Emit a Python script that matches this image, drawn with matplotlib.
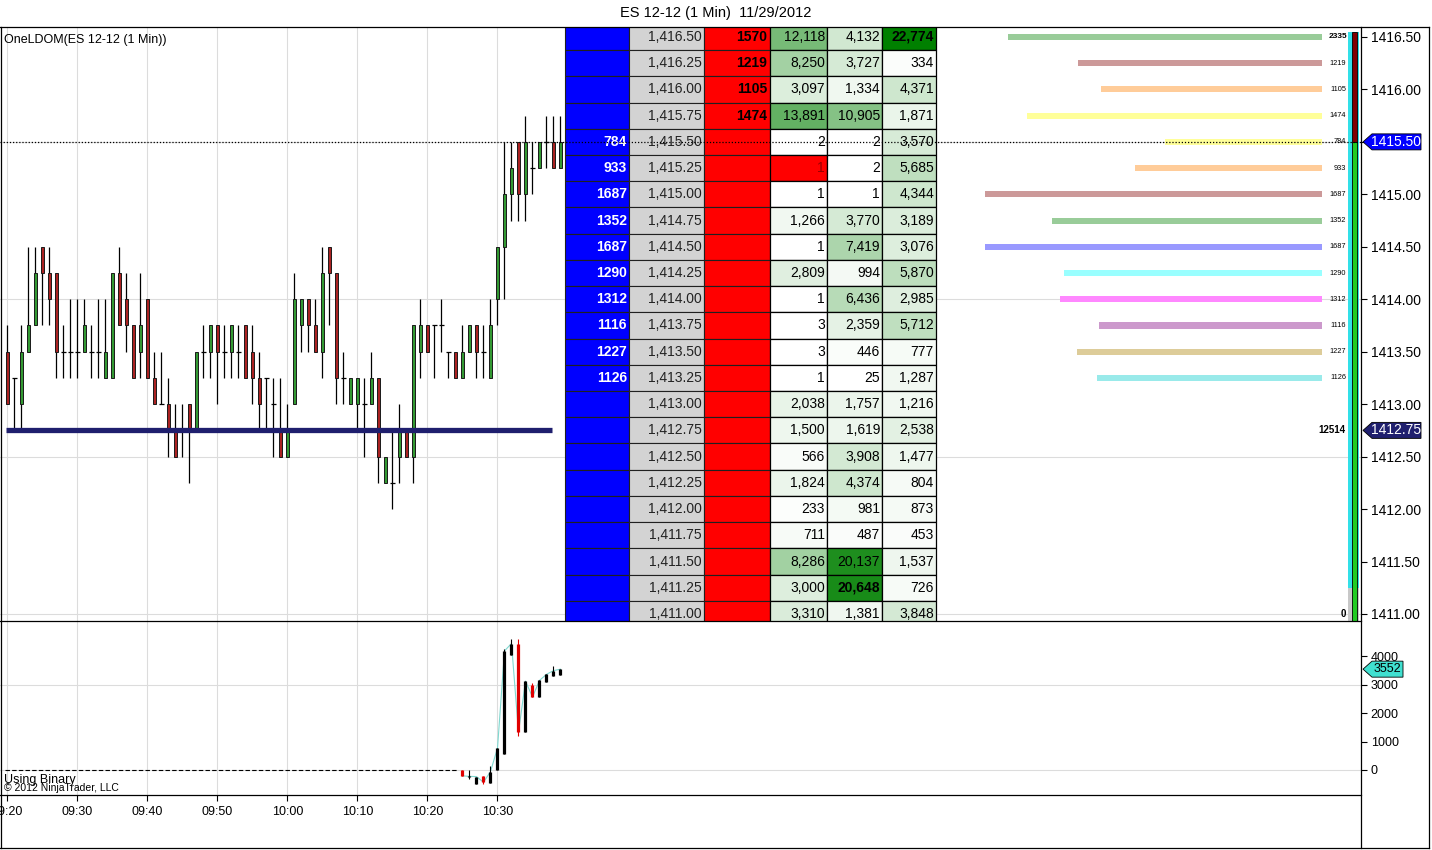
import matplotlib
matplotlib.use('Agg')
import matplotlib.pyplot as plt
from matplotlib.patches import Rectangle, Polygon
from matplotlib.lines import Line2D

plt.rcParams['font.family'] = ['Liberation Sans', 'DejaVu Sans']

W, H = 1432, 850

# one-minute candles starting 09:20
opens = [1413.50, 1413.25, 1413.00, 1413.50, 1413.75, 1414.50, 1414.25, 1414.25, 1413.50, 1413.50,
         1413.50, 1413.50, 1413.50, 1413.50, 1413.25, 1413.25, 1414.25, 1414.00, 1413.75, 1413.50,
         1414.00, 1413.25, 1413.00, 1413.00, 1412.75, 1412.75, 1413.00, 1412.75, 1413.50, 1413.50,
         1413.75, 1413.50, 1413.50, 1413.50, 1413.75, 1413.50, 1413.25, 1413.25, 1413.00, 1412.75,
         1412.50, 1413.00, 1413.75, 1414.00, 1413.75, 1413.50, 1414.50, 1414.25, 1413.25, 1413.00,
         1413.00, 1413.00, 1413.00, 1413.25, 1412.25, 1412.25, 1412.50, 1412.75, 1412.50, 1413.50,
         1413.75, 1413.75, 1413.75, 1413.50, 1413.50, 1413.25, 1413.50, 1413.75, 1413.50, 1413.25,
         1414.00, 1414.50, 1415.00, 1415.50, 1415.00, 1415.25, 1415.25, 1415.50, 1415.50, 1415.25]
highs = [1413.75, 1413.25, 1413.75, 1414.50, 1414.50, 1414.50, 1414.50, 1414.25, 1413.75, 1414.00,
         1414.00, 1414.00, 1413.75, 1414.00, 1414.00, 1414.25, 1414.50, 1414.25, 1413.75, 1414.25,
         1414.00, 1413.50, 1413.50, 1413.25, 1413.00, 1413.00, 1413.00, 1413.50, 1413.75, 1413.75,
         1413.75, 1413.75, 1413.75, 1413.75, 1413.75, 1413.75, 1413.50, 1413.25, 1413.25, 1413.25,
         1413.00, 1414.25, 1414.00, 1414.00, 1414.00, 1414.50, 1414.50, 1414.25, 1413.50, 1413.25,
         1413.25, 1413.25, 1413.50, 1413.25, 1412.50, 1412.75, 1413.00, 1412.75, 1413.75, 1414.00,
         1413.75, 1413.75, 1414.00, 1413.50, 1413.50, 1413.75, 1413.75, 1413.75, 1413.75, 1414.00,
         1414.50, 1415.50, 1415.50, 1415.50, 1415.75, 1415.50, 1415.50, 1415.75, 1415.75, 1415.75]
lows = [1413.00, 1412.75, 1412.75, 1413.50, 1413.75, 1413.75, 1413.75, 1413.25, 1413.25, 1413.25,
        1413.25, 1413.50, 1413.25, 1413.25, 1413.25, 1413.25, 1413.75, 1413.50, 1413.25, 1413.25,
        1413.25, 1413.00, 1413.00, 1412.50, 1412.50, 1412.50, 1412.25, 1412.75, 1413.25, 1413.25,
        1413.00, 1413.25, 1413.25, 1413.25, 1413.25, 1413.00, 1412.75, 1412.75, 1412.50, 1412.50,
        1412.50, 1413.00, 1413.50, 1413.50, 1413.50, 1413.25, 1413.75, 1413.00, 1413.00, 1413.00,
        1412.75, 1412.50, 1413.00, 1412.25, 1412.25, 1412.00, 1412.25, 1412.50, 1412.25, 1413.25,
        1413.50, 1413.25, 1413.50, 1413.25, 1413.25, 1413.25, 1413.50, 1413.25, 1413.25, 1413.25,
        1413.75, 1414.00, 1414.75, 1414.75, 1414.75, 1415.00, 1415.25, 1415.25, 1415.25, 1415.25]
closes = [1413.00, 1413.25, 1413.50, 1413.75, 1414.25, 1414.25, 1414.00, 1413.50, 1413.50, 1413.50,
          1413.50, 1413.75, 1413.50, 1413.50, 1413.50, 1414.25, 1413.75, 1413.75, 1413.25, 1413.75,
          1413.25, 1413.00, 1413.00, 1412.75, 1412.50, 1412.75, 1412.75, 1413.50, 1413.50, 1413.75,
          1413.50, 1413.50, 1413.75, 1413.50, 1413.25, 1413.25, 1413.00, 1413.25, 1413.00, 1412.50,
          1412.75, 1414.00, 1414.00, 1413.75, 1413.50, 1414.25, 1414.25, 1413.25, 1413.25, 1413.25,
          1413.25, 1413.00, 1413.25, 1412.50, 1412.50, 1412.25, 1412.75, 1412.50, 1413.75, 1413.75,
          1413.50, 1413.75, 1413.75, 1413.50, 1413.25, 1413.50, 1413.75, 1413.50, 1413.50, 1413.75,
          1414.50, 1415.00, 1415.25, 1415.00, 1415.50, 1415.25, 1415.50, 1415.50, 1415.25, 1415.50]
minutes = list(range(len(opens)))

time_ticks = [0, 10, 20, 30, 40, 50, 60, 70]
time_labels = ['09:20', '09:30', '09:40', '09:50', '10:00', '10:10', '10:20', '10:30']

support_level = 1412.75
last_price = 1415.50

# lower panel (binary delta) from 10:25
delta_minutes = [65, 66, 67, 68, 69, 70, 71, 72, 73, 74, 75, 76, 77, 78, 79]
delta_open = [0, -240, -496, -201, -473, 0, 556, 4054, 4456, 1324, 2990, 2565, 3109, 3310, 3345]
delta_high = [0, -20, -236, -201, 154, 768, 4250, 4610, 4610, 3132, 3050, 3156, 3369, 3664, 3570]
delta_low = [-210, -320, -496, -496, -473, 0, 556, 4054, 1182, 1324, 2565, 2565, 3109, 3310, 3345]
delta_close = [-210, -230, -236, -437, -59, 768, 4196, 4456, 1324, 3132, 2565, 3156, 3369, 3500, 3552]

# DOM ladder
ladder_prices = [1416.50, 1416.25, 1416.00, 1415.75, 1415.50, 1415.25, 1415.00, 1414.75,
                 1414.50, 1414.25, 1414.00, 1413.75, 1413.50, 1413.25, 1413.00, 1412.75,
                 1412.50, 1412.25, 1412.00, 1411.75, 1411.50, 1411.25, 1411.00]
bid_sizes = [None, None, None, None, 784, 933, 1687, 1352, 1687, 1290, 1312, 1116, 1227, 1126,
             None, None, None, None, None, None, None, None, None]
ask_sizes = [1570, 1219, 1105, 1474, None, None, None, None, None, None, None, None, None, None,
             None, None, None, None, None, None, None, None, None]
col_a = [12118, 8250, 3097, 13891, 2, 1, 1, 1266, 1, 2809, 1, 3, 3, 1,
         2038, 1500, 566, 1824, 233, 711, 8286, 3000, 3310]
col_b = [4132, 3727, 1334, 10905, 2, 2, 1, 3770, 7419, 994, 6436, 2359, 446, 25,
         1757, 1619, 3908, 4374, 981, 487, 20137, 20648, 1381]
col_c = [22774, 334, 4371, 1871, 3570, 5685, 4344, 3189, 3076, 5870, 2985, 5712, 777, 1287,
         1216, 2538, 1477, 804, 873, 453, 1537, 726, 3848]
bold_cells = [(1416.50, 2), (1411.25, 1)]
red_cell = (1415.25, 0)

# size bars on the right of the ladder
bar_prices = [1416.50, 1416.25, 1416.00, 1415.75, 1415.50, 1415.25, 1415.00, 1414.75,
              1414.50, 1414.25, 1414.00, 1413.75, 1413.50, 1413.25]
bar_values = [1570, 1219, 1105, 1474, 784, 933, 1687, 1352, 1687, 1290, 1312, 1116, 1227, 1126]
bar_labels = ['2335', '1219', '1105', '1474', '784', '933', '1687', '1352', '1687', '1290',
              '1312', '1116', '1227', '1126']
bar_colors = ['#99cc99', '#cc9999', '#ffcc99', '#ffff99', '#ffff99', '#ffcc99', '#cc9999',
              '#99cc99', '#9999ff', '#99ffff', '#ff88ff', '#cc99cc', '#ddcc99', '#99eaea']


def box(x0, y0, x1, y1):
    return [x0 / W, 1 - y1 / H, (x1 - x0) / W, (y1 - y0) / H]


fig = plt.figure(figsize=(W / 100, H / 100), dpi=100)

ax = fig.add_axes(box(0, 27, 1361, 621))
ax_d = fig.add_axes(box(0, 621, 1361, 795), sharex=ax)
ov = fig.add_axes(box(0, 27, 1361, 621))

xmin, xmax = -7.5 / 7, (1361 - 7.5) / 7
ax.set_xlim(xmin, xmax)
ax.set_ylim(1410.933, 1416.595)
ax_d.set_ylim(-886, 5250)
ov.set_xlim(0, 1361)
ov.set_ylim(ax.get_ylim())
ov.axis('off')
ov.patch.set_visible(False)

for a in (ax, ax_d):
    for s in a.spines.values():
        s.set_visible(False)

# --- main panel ---
ax.set_xticks(time_ticks)
ax.tick_params(axis='x', bottom=False, labelbottom=False)
ax.grid(axis='x', color='#dcdcdc', lw=0.8)
for lvl in [1411.0, 1412.5, 1414.0, 1415.5]:
    ax.axhline(lvl, color='#dcdcdc', lw=0.8, zorder=0)
ax.yaxis.tick_right()
ax.set_yticks([1411.0, 1411.5, 1412.0, 1412.5, 1413.0, 1413.5, 1414.0, 1414.5, 1415.0,
               1415.5, 1416.0, 1416.5])
ax.set_yticklabels(['%.2f' % v for v in ax.get_yticks()])
ax.tick_params(axis='y', length=4, width=0.8, pad=3, labelsize=10)

for m, o, h, l, c in zip(minutes, opens, highs, lows, closes):
    ax.vlines(m, l, h, color='black', lw=0.9, zorder=2)
    if c > o:
        ax.bar(m, c - o, bottom=o, width=0.55, color='#339933', edgecolor='#1a1a1a', lw=0.7, zorder=3)
    elif c < o:
        ax.bar(m, o - c, bottom=c, width=0.55, color='#aa2222', edgecolor='#1a1a1a', lw=0.7, zorder=3)
    else:
        ax.hlines(o, m - 0.3, m + 0.3, color='black', lw=0.9, zorder=3)

ax.hlines(support_level, -0.15, 77.8, color='#1f1f6e', lw=3.8, zorder=4)

# --- DOM ladder overlay (x in pixels) ---
edges = [565, 629, 704, 770, 827, 882, 936]
depth_max = max(max(col_a), max(col_b), max(col_c))


def depth_color(v):
    f = v / depth_max
    return (1 - f, 1 - 0.5 * f, 1 - f)


for i, p in enumerate(ladder_prices):
    y0 = p - 0.125
    ov.add_patch(Rectangle((edges[0], y0), edges[1] - edges[0], 0.25, fc='#0000ff', ec='#202020', lw=0.8))
    ov.add_patch(Rectangle((edges[1], y0), edges[2] - edges[1], 0.25, fc='#d3d3d3', ec='#202020', lw=0.8))
    ov.add_patch(Rectangle((edges[2], y0), edges[3] - edges[2], 0.25, fc='#ff0000', ec='#202020', lw=0.8))
    if bid_sizes[i] is not None:
        ov.text(edges[1] - 2, p, str(bid_sizes[i]), ha='right', va='center', color='white',
                fontsize=10, fontweight='bold')
    ov.text(edges[2] - 2, p, f'{p:,.2f}', ha='right', va='center', color='#222222', fontsize=10)
    if ask_sizes[i] is not None:
        ov.text(edges[3] - 3, p, str(ask_sizes[i]), ha='right', va='center', color='black',
                fontsize=10, fontweight='bold')
    for j, col in enumerate((col_a, col_b, col_c)):
        v = col[i]
        fc = depth_color(v)
        tc = 'black'
        if (p, j) == red_cell:
            fc = '#ff0000'
            tc = '#990000'
        ov.add_patch(Rectangle((edges[3 + j], y0), edges[4 + j] - edges[3 + j], 0.25,
                               fc=fc, ec='black', lw=0.9))
        ov.text(edges[4 + j] - 2, p, f'{v:,}', ha='right', va='center', color=tc, fontsize=10,
                fontweight='bold' if (p, j) in bold_cells else 'normal')

# size bars
widths = [v * 0.2 for v in bar_values]
ov.barh(bar_prices, widths, left=[1322 - w for w in widths], height=0.058, color=bar_colors, zorder=3)
for p, lab in zip(bar_prices, bar_labels):
    if lab == bar_labels[0] and p == bar_prices[0]:
        ov.text(1347, p, lab, ha='right', va='center', fontsize=6, fontweight='bold')
    else:
        ov.text(1346, p, lab, ha='right', va='center', fontsize=5.3)
ov.text(1346, support_level, '12514', ha='right', va='center', fontsize=7, fontweight='bold')
ov.text(1346, 1411.0, '0', ha='right', va='center', fontsize=7, fontweight='bold')

# ratio column at the right edge
top_p, bot_p = 1416.55, 1410.933
ov.add_patch(Rectangle((1348, 1411.25), 11, top_p - 1411.25, fc='#33e0e8', ec='none', zorder=4))
ov.add_patch(Rectangle((1348, bot_p), 11, 1411.25 - bot_p, fc='#c8c8c8', ec='none', zorder=4))
ov.add_patch(Rectangle((1352.5, last_price), 4.5, top_p - last_price, fc='#800000', ec='black', lw=0.6, zorder=5))
ov.add_patch(Rectangle((1352.5, bot_p), 4.5, last_price - bot_p, fc='#22cc22', ec='black', lw=0.6, zorder=5))

ov.axhline(last_price, color='black', lw=0.9, ls=(0, (1, 1.5)), zorder=10)

# --- lower panel ---
ax_d.yaxis.tick_right()
ax_d.set_yticks([0, 1000, 2000, 3000, 4000])
ax_d.set_yticklabels(['0', '1000', '2000', '3000', '4000'])
ax_d.tick_params(axis='y', length=4, width=0.8, pad=3, labelsize=9)
ax_d.set_xticks(time_ticks)
ax_d.set_xticklabels(time_labels)
ax_d.tick_params(axis='x', length=4, width=0.8, pad=4, labelsize=9)
ax_d.grid(axis='x', color='#dcdcdc', lw=0.8)
ax_d.axhline(0, color='#dcdcdc', lw=0.8, zorder=0)
ax_d.axhline(3000, color='#dcdcdc', lw=0.8, zorder=0)
ax_d.hlines(0, -0.3, 64.2, colors='black', lw=0.8, linestyles=(0, (4, 2)), zorder=2)
ax_d.plot(delta_minutes, delta_close, color='#7fd8d0', lw=0.8, zorder=2)
for m, o, h, l, c in zip(delta_minutes, delta_open, delta_high, delta_low, delta_close):
    col = 'black' if c >= o else '#e00000'
    ax_d.vlines(m, l, h, color=col, lw=0.8, zorder=3)
    ax_d.vlines(m, min(o, c), max(o, c), color=col, lw=2.3, zorder=3)


# --- price tags on the axes ---
def tag(a, value, text, face, fg, width, fs):
    ya = a.transLimits.transform((0, value))[1]
    pos = a.get_position()
    yf = pos.y0 + ya * pos.height
    x0 = pos.x1 + 2 / W
    hh = 8 / H
    pts = [(x0, yf), (x0 + 9 / W, yf + hh), (x0 + width / W, yf + hh),
           (x0 + width / W, yf - hh), (x0 + 9 / W, yf - hh)]
    fig.add_artist(Polygon(pts, closed=True, fc=face, ec='black', lw=0.6, transform=fig.transFigure))
    fig.text(x0 + (width + 8) / 2 / W, yf, text, ha='center', va='center', color=fg, fontsize=fs)


tag(ax, last_price, '1415.50', '#0000ff', 'white', 58, 10)
tag(ax, support_level, '1412.75', '#1f1f6e', 'white', 58, 10)
tag(ax_d, delta_close[-1], str(delta_close[-1]), '#40e0d0', 'black', 40, 9)

# --- frame lines and texts ---
frame = [((0, 1429), (27, 27)), ((0, 1361), (621, 621)), ((0, 1361), (795, 795)),
         ((0, 1429), (848, 848)), ((1361, 1361), (27, 848)), ((1429, 1429), (27, 848)),
         ((0.5, 0.5), (27, 848))]
for xs, ys in frame:
    fig.add_artist(Line2D([x / W for x in xs], [1 - y / H for y in ys], color='black', lw=0.9,
                          transform=fig.transFigure))

fig.text(716 / W, 1 - 13 / H, 'ES 12-12 (1 Min)  11/29/2012', ha='center', va='center', fontsize=10.5)
fig.text(4 / W, 1 - 40 / H, 'OneLDOM(ES 12-12 (1 Min))', ha='left', va='center', fontsize=9)
fig.text(4 / W, 1 - 780 / H, 'Using Binary', ha='left', va='center', fontsize=9)
fig.text(4 / W, 1 - 788 / H, '\u00a9 2012 NinjaTrader, LLC', ha='left', va='center', fontsize=7.5)

fig.savefig('out.png', dpi=100)
